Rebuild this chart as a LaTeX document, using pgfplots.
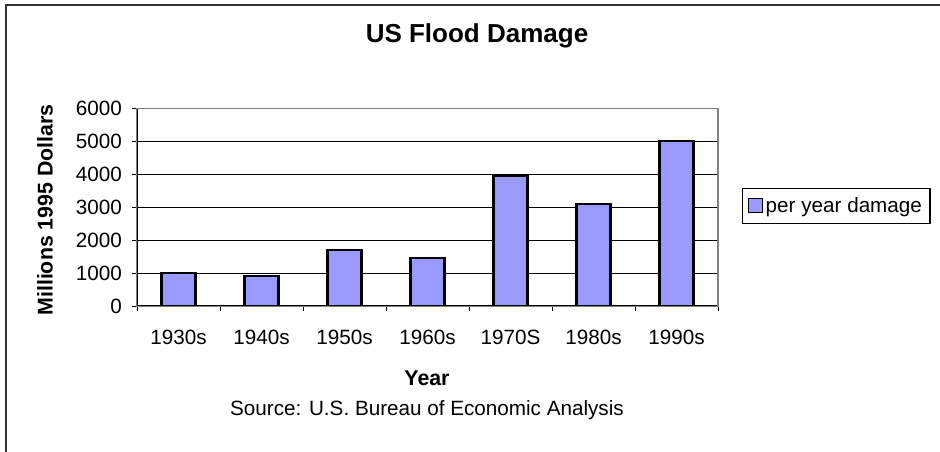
\documentclass[border=0pt]{standalone}
\usepackage{pgfplots}
\pgfplotsset{compat=1.18}
\usepackage{fontspec}
\setmainfont{Liberation Sans}
\definecolor{barblue}{HTML}{9999FF}
\pgfplotstableread{
x val
0 1000
1 920
2 1700
3 1470
4 3940
5 3100
6 5000
}\flooddata
\begin{document}
\begin{tikzpicture}
\begin{scope}[x=0.75pt,y=-0.75pt]
\useasboundingbox (0,0) rectangle (940,452);
\draw[line width=1.5pt, color=black!80] (6,480) -- (6,5) -- (980,5);
\node[font=\bfseries\fontsize{19.5}{22}\selectfont] at (477,36) {US Flood Damage};
\node[font=\bfseries\fontsize{16}{19}\selectfont, rotate=90] at (45,210) {Millions 1995 Dollars};
\node[font=\bfseries\fontsize{16}{19}\selectfont] at (427,378) {Year};
\node[font=\fontsize{15.5}{18}\selectfont] at (427,410) {Source: U.S. Bureau of Economic Analysis};
\end{scope}
\begin{axis}[
  at={(102.75pt,-229.5pt)}, anchor=south west,
  scale only axis, width=435.75pt, height=148.125pt,
  ybar, bar width=25.5pt,
  xmin=-0.5, xmax=6.5, ymin=0, ymax=6000,
  xtick={-0.5,0.5,...,6.5},
  x tick label as interval,
  xticklabels={1930s,1940s,1950s,1960s,1970S,1980s,1990s},
  ytick={0,1000,...,6000},
  tick align=outside, major tick length=3.75pt,
  tick style={black, line width=0.6pt},
  xtick pos=bottom, ytick pos=left,
  ymajorgrids, grid style={black, line width=0.6pt},
  axis line style={draw=gray, line width=1pt},
  /pgf/number format/assume math mode=true,
  /pgf/number format/1000 sep={},
  ticklabel style={font=\fontsize{15.5}{18}\selectfont},
  xticklabel style={yshift=-11pt},
  yticklabel style={xshift=-4pt},
  legend style={at={(1.0413,0.506)}, anchor=west, draw=black, line width=0.8pt,
    font=\fontsize{15.5}{18}\selectfont, inner xsep=4pt, inner ysep=5pt},
  legend image code/.code={\draw[#1, draw=black, line width=0.9pt] (0pt,-5pt) rectangle (10.5pt,5.5pt);},
]
\addplot[fill=barblue, draw=black, line width=1.6pt] table[x=x,y=val] {\flooddata};
\addlegendentry{per year damage}
\draw[black, line width=1pt] (rel axis cs:0,1) -- (rel axis cs:0,0) -- (rel axis cs:1,0);
\draw[gray, line width=1pt] (rel axis cs:0,1) -- (rel axis cs:1,1) -- (rel axis cs:1,0);
\end{axis}
\end{tikzpicture}
\end{document}
